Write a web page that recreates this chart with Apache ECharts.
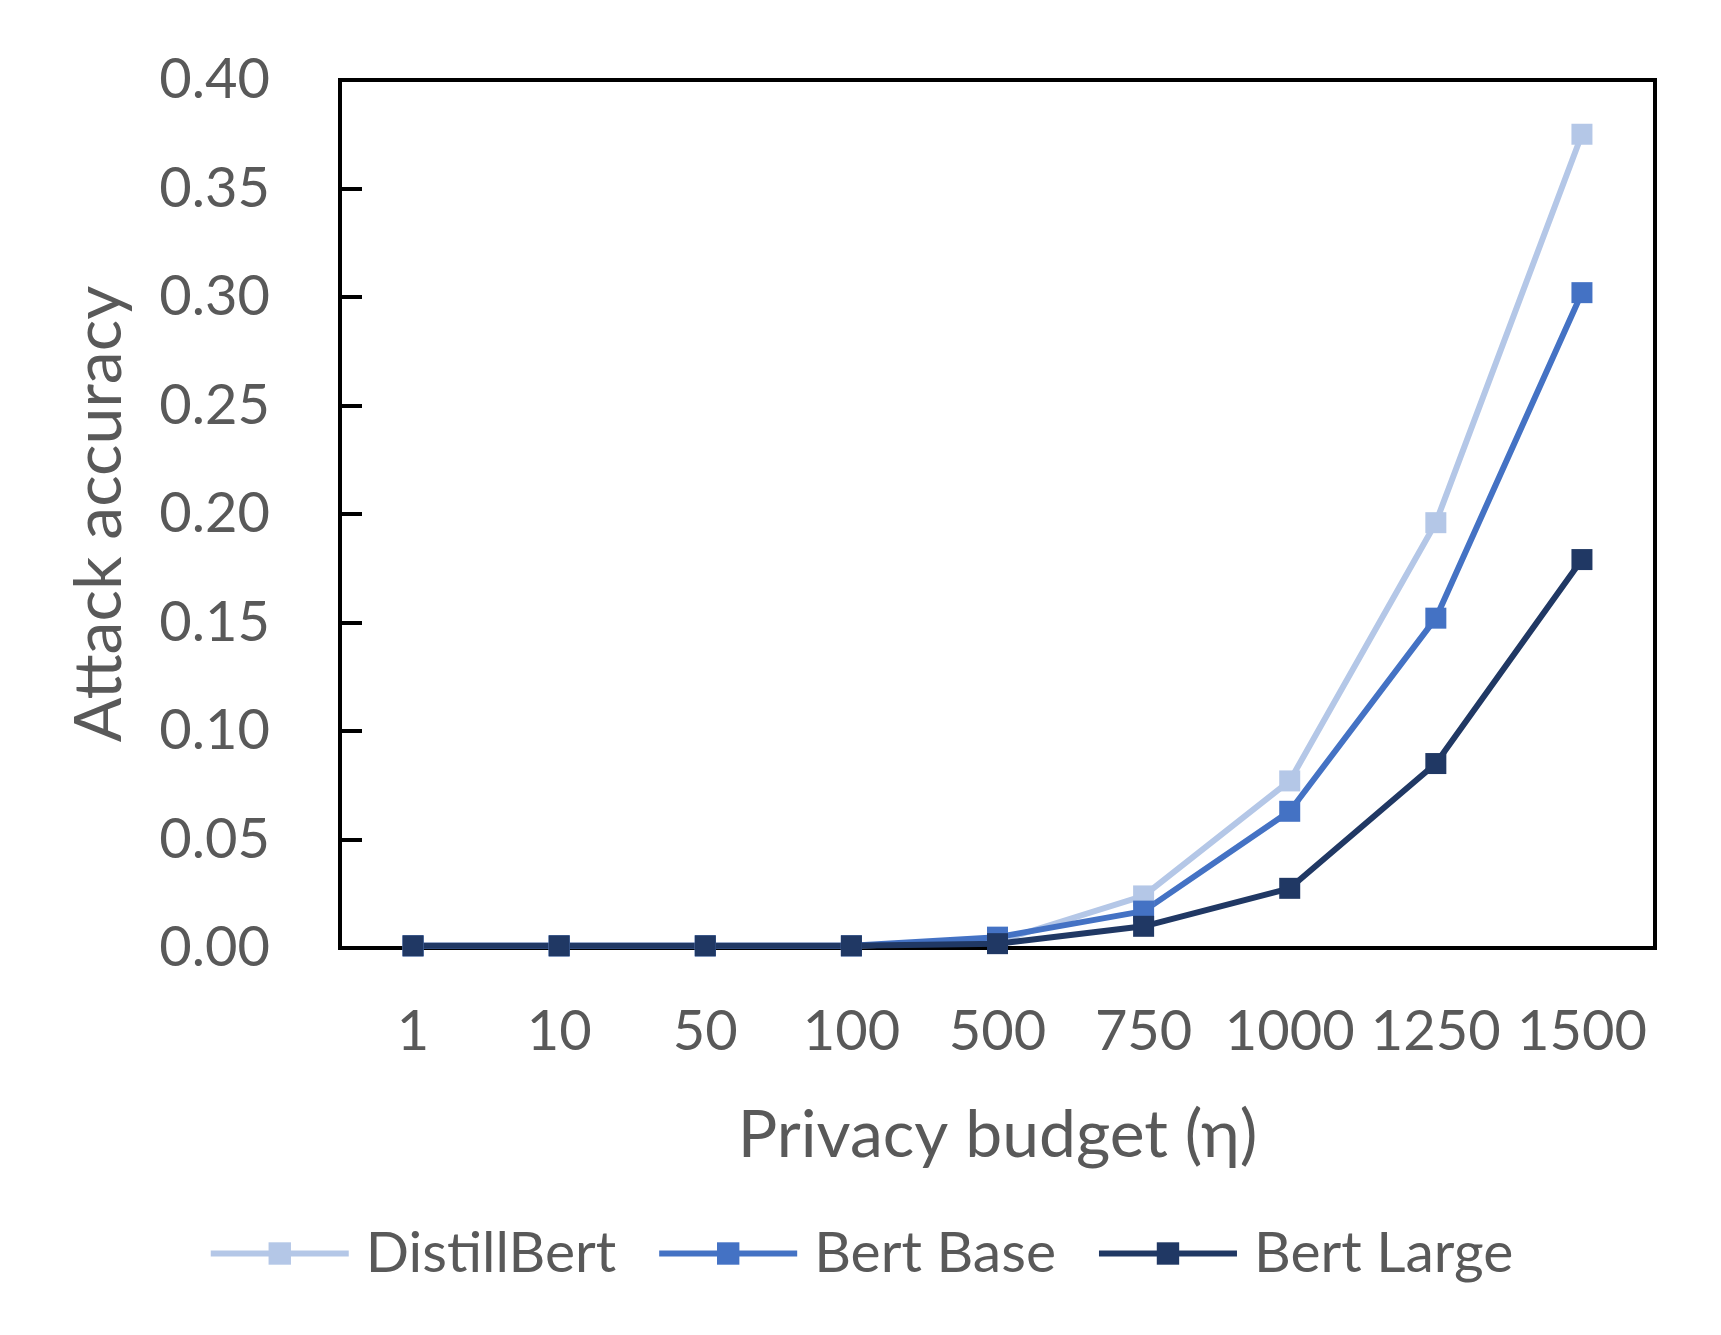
<!DOCTYPE html>
<html>
<head>
	<meta charset="utf-8">
	<title>Attack accuracy</title>
	<script src="https://cdn.jsdelivr.net/npm/echarts@6/dist/echarts.min.js"></script>
	<style>
		* {
			margin: 0;
			padding: 0;
		}
		body {
			background: #ffffff;
		}
		#main {
			width: 1721px;
			height: 1335px;
		}
	</style>
</head>
<body>
	<div id="main"></div>
	<script>
		// x categories (privacy budget)
		let budgets = ['1', '10', '50', '100', '500', '750', '1000', '1250', '1500'];
		// attack accuracy per model
		let distillBert = [0.001, 0.001, 0.001, 0.001, 0.003, 0.024, 0.077, 0.196, 0.375];
		let bertBase = [0.001, 0.001, 0.001, 0.001, 0.005, 0.017, 0.063, 0.152, 0.302];
		let bertLarge = [0.001, 0.001, 0.001, 0.001, 0.002, 0.010, 0.0275, 0.085, 0.179];
		let seriesNames = ['DistillBert', 'Bert Base', 'Bert Large'];
		let myColor = ['#B4C7E7', '#4472C4', '#203864'];

		let txtColor = '#595959';
		let myFont = 'Lato';

		let myChart = echarts.init(document.getElementById('main'));

		let changeData = [];
		[distillBert, bertBase, bertLarge].forEach((item, index) => {
			changeData.push({
				name: seriesNames[index],
				type: 'line',
				symbol: 'rect',
				symbolSize: 21,
				lineStyle: {
					width: 6,
					color: myColor[index]
				},
				itemStyle: {
					color: myColor[index]
				},
				emphasis: { disabled: true },
				data: item
			});
		});

		let option = {
			animation: false,
			color: myColor,
			textStyle: {
				fontFamily: myFont
			},
			legend: {
				left: 'center',
				top: 1220,
				itemWidth: 138,
				itemHeight: 28,
				itemGap: 40,
				lineStyle: {
					width: 6
				},
				textStyle: {
					color: txtColor,
					fontSize: 57,
					fontFamily: myFont,
					padding: [0, 0, 0, 12]
				},
				data: seriesNames
			},
			grid: {
				left: 340,
				right: 66,
				top: 80,
				bottom: 387,
				show: true,
				borderColor: '#000000',
				borderWidth: 4
			},
			xAxis: {
				type: 'category',
				data: budgets,
				boundaryGap: true,
				name: 'Privacy budget (η)',
				nameLocation: 'middle',
				nameGap: 155,
				nameTextStyle: {
					color: txtColor,
					fontSize: 66,
					fontFamily: myFont
				},
				axisLine: {
					show: true,
					lineStyle: { color: '#000000', width: 4 }
				},
				axisTick: { show: false },
				axisLabel: {
					interval: 0,
					color: txtColor,
					fontSize: 56,
					fontFamily: myFont,
					margin: 56
				},
				splitLine: { show: false }
			},
			yAxis: {
				type: 'value',
				min: 0,
				max: 0.4,
				interval: 0.05,
				name: 'Attack accuracy',
				nameLocation: 'middle',
				nameGap: 207,
				nameTextStyle: {
					color: txtColor,
					fontSize: 66,
					fontFamily: myFont
				},
				axisLine: {
					show: true,
					lineStyle: { color: '#000000', width: 4 }
				},
				axisTick: {
					show: true,
					inside: true,
					length: 22,
					lineStyle: { color: '#000000', width: 4 }
				},
				axisLabel: {
					color: txtColor,
					fontSize: 56,
					fontFamily: myFont,
					margin: 70,
					formatter: function (v) {
						return v.toFixed(2);
					}
				},
				splitLine: { show: false }
			},
			series: changeData
		};
		myChart.setOption(option);
	</script>
</body>
</html>
